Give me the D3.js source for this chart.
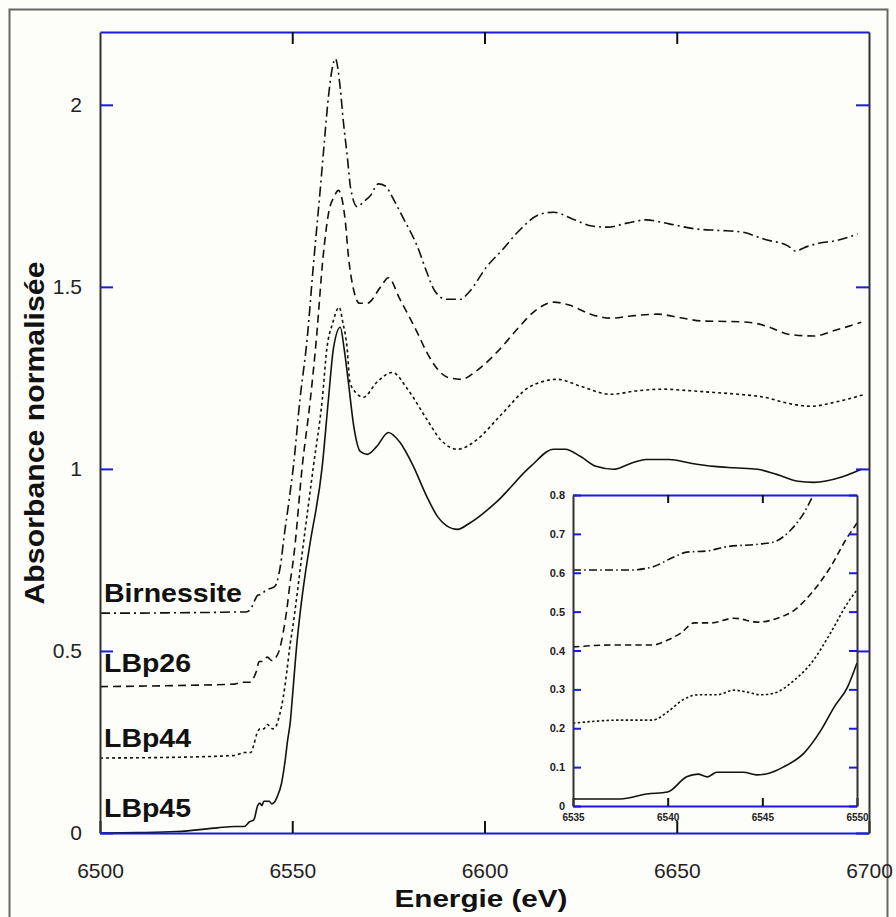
<!DOCTYPE html>
<html>
<head>
<meta charset="utf-8">
<script src="https://cdn.jsdelivr.net/npm/d3@7"></script>
<style>
  html, body { margin: 0; padding: 0; background: #fdfdf9; }
  svg { display: block; }
</style>
</head>
<body>
<script>
// ---------------- DATA ----------------
const seriesNames = ["Birnessite", "LBp26", "LBp44", "LBp45"];
const energyTicks = [6500, 6550, 6600, 6650, 6700];
const absTicks = [0, 0.5, 1, 1.5, 2];
const insetEnergyTicks = [6535, 6540, 6545, 6550];
const insetAbsTicks = [0, 0.1, 0.2, 0.3, 0.4, 0.5, 0.6, 0.7, 0.8];

const birnessite = [
[6500,0.604],[6510,0.604],[6520,0.605],[6530,0.606],[6535,0.607],[6538,0.607],[6539.2,0.615],[6540.3,0.64],[6541,0.653],[6542.1,0.656],[6543,0.666],[6544.9,0.674],[6545.6,0.679],[6546.5,0.71],[6547.2,0.754],[6547.7,0.80],[6549,0.90],[6550.3,1.007],[6552,1.19],[6553.9,1.36],[6555.5,1.56],[6557.3,1.77],[6558.2,1.88],[6559.2,2.0],[6560.4,2.10],[6561.2,2.127],[6562.5,2.044],[6563.3,1.953],[6564.3,1.86],[6565.2,1.77],[6566.9,1.72],[6568.5,1.733],[6570.3,1.75],[6572.4,1.783],[6574.2,1.777],[6576.3,1.741],[6579,1.686],[6582.5,1.612],[6585,1.54],[6587,1.49],[6590,1.466],[6593.8,1.466],[6596,1.486],[6600.7,1.557],[6604.5,1.60],[6608.6,1.65],[6614.6,1.70],[6618,1.705],[6623,1.686],[6628,1.667],[6632,1.664],[6637,1.675],[6642,1.684],[6648,1.673],[6655,1.659],[6661,1.655],[6666.7,1.651],[6673,1.63],[6679,1.612],[6681,1.598],[6683,1.607],[6687,1.62],[6691,1.626],[6697,1.645]
];
const lbp26 = [
[6500,0.402],[6520,0.405],[6535,0.409],[6537,0.414],[6539.2,0.414],[6540,0.427],[6540.7,0.445],[6541.4,0.471],[6542.3,0.471],[6543.5,0.483],[6544.8,0.473],[6545.8,0.483],[6546.7,0.504],[6547.6,0.548],[6548.5,0.607],[6549.5,0.692],[6550,0.728],[6550.5,0.77],[6552.6,1.007],[6554.7,1.19],[6556.3,1.36],[6558,1.58],[6559.4,1.70],[6561,1.75],[6562,1.765],[6563.8,1.68],[6564.6,1.585],[6566,1.49],[6567.5,1.455],[6569.5,1.455],[6573,1.50],[6575,1.525],[6578,1.466],[6582.5,1.375],[6585,1.32],[6587.8,1.274],[6590.3,1.252],[6594,1.246],[6598,1.27],[6604,1.329],[6609,1.39],[6613,1.433],[6618,1.458],[6622,1.45],[6627.6,1.425],[6632.8,1.414],[6638,1.42],[6645,1.425],[6651,1.415],[6657,1.406],[6663,1.405],[6668.5,1.403],[6674,1.39],[6679,1.37],[6685.7,1.365],[6691,1.38],[6698,1.403]
];
const lbp44 = [
[6500,0.206],[6520,0.208],[6533,0.212],[6535,0.213],[6537.6,0.221],[6539.2,0.221],[6540,0.242],[6540.8,0.273],[6541.6,0.286],[6542.6,0.286],[6543.5,0.298],[6544.2,0.293],[6544.9,0.286],[6545.6,0.29],[6546.7,0.324],[6547.7,0.375],[6548.6,0.445],[6549.5,0.522],[6550,0.556],[6552.6,0.77],[6555.5,1.007],[6557.8,1.19],[6559,1.33],[6560.5,1.40],[6562.2,1.444],[6563.2,1.40],[6564.3,1.329],[6565,1.238],[6566.5,1.21],[6568.5,1.197],[6572,1.238],[6576,1.265],[6580,1.219],[6585,1.136],[6588.5,1.081],[6593,1.054],[6598,1.08],[6604,1.145],[6612,1.227],[6619,1.246],[6625,1.227],[6632.8,1.205],[6640,1.215],[6646.6,1.219],[6653,1.215],[6659.7,1.21],[6666,1.205],[6672.7,1.197],[6679,1.18],[6685,1.172],[6691,1.183],[6699,1.205]
];
const lbp45 = [
[6500,0.0],[6510,0.001],[6520,0.004],[6530.5,0.014],[6535,0.018],[6537.5,0.018],[6538.9,0.031],[6540,0.036],[6541,0.075],[6541.6,0.082],[6542.1,0.075],[6542.6,0.087],[6544,0.087],[6544.7,0.08],[6545.4,0.085],[6546.1,0.1],[6547.2,0.136],[6548.1,0.195],[6548.8,0.255],[6549.5,0.306],[6550,0.368],[6551.3,0.531],[6552,0.60],[6553.5,0.72],[6554.7,0.80],[6557.8,1.007],[6559.4,1.19],[6560.7,1.33],[6562.5,1.389],[6563.5,1.33],[6564.6,1.238],[6566,1.117],[6567.7,1.048],[6569.5,1.04],[6572,1.062],[6575,1.10],[6578,1.073],[6581.5,1.007],[6585,0.924],[6587.8,0.869],[6590,0.845],[6593,0.834],[6596,0.85],[6603,0.908],[6612,1.007],[6618,1.054],[6621,1.054],[6625,1.034],[6629,1.007],[6633.6,0.999],[6638,1.015],[6642,1.026],[6648,1.026],[6654,1.015],[6659.7,1.007],[6665,1.003],[6671,0.999],[6676,0.985],[6681.5,0.966],[6685.7,0.963],[6692.7,0.977],[6698,0.999]
];
const seriesData = [birnessite, lbp26, lbp44, lbp45];
const seriesDash = ["10,4,2,4", "8,5", "3,3", null];

// ---------------- DRAW ----------------
const W = 896, H = 917;
const BLUE = "#1a1adc", FONT = "'Liberation Sans', Arial, sans-serif";
const svg = d3.select("body").append("svg").attr("width", W).attr("height", H);
svg.append("rect").attr("x", 0).attr("y", 0).attr("width", W).attr("height", H).attr("fill", "#fdfdf9");
svg.append("rect").attr("x", 9.5).attr("y", 9.5).attr("width", 878).attr("height", 930)
  .attr("fill", "none").attr("stroke", "#666").attr("stroke-width", 2);

const x = d3.scaleLinear().domain([6500, 6700]).range([100, 869]);
const y = d3.scaleLinear().domain([0, 2.2]).range([833, 32]);

const line = d3.line().x(d => x(d[0])).y(d => y(d[1])).curve(d3.curveMonotoneX);
svg.append("g").selectAll("path").data(seriesData).join("path")
  .attr("d", line).attr("fill", "none").attr("stroke", "#111").attr("stroke-width", 1.6)
  .attr("stroke-dasharray", (d, i) => seriesDash[i]);

function styleAxis(g, domainColor, tickColor, fontSize) {
  g.select(".domain").attr("stroke", domainColor).attr("stroke-width", 2);
  g.selectAll(".tick line").attr("stroke", tickColor).attr("stroke-width", 2);
  g.selectAll(".tick text").attr("fill", "#222").style("font-family", FONT).style("font-size", fontSize + "px");
}

// main axes
const gB = svg.append("g").attr("transform", "translate(0,833)")
  .call(d3.axisBottom(x).tickValues(energyTicks).tickSize(-12).tickSizeOuter(0).tickPadding(30).tickFormat(d3.format("d")));
styleAxis(gB, BLUE, "#111", 21);
const gT = svg.append("g").attr("transform", "translate(0,32)")
  .call(d3.axisTop(x).tickValues(energyTicks.slice(1, -1)).tickSize(-12).tickSizeOuter(0).tickFormat(""));
styleAxis(gT, BLUE, "#111", 21);
const gL = svg.append("g").attr("transform", "translate(100,0)")
  .call(d3.axisLeft(y).tickValues(absTicks).tickSize(-13).tickSizeOuter(0).tickPadding(18).tickFormat(d3.format("")));
styleAxis(gL, "#333", BLUE, 21);
const gR = svg.append("g").attr("transform", "translate(869,0)")
  .call(d3.axisRight(y).tickValues(absTicks).tickSize(-13).tickSizeOuter(0).tickFormat(""));
styleAxis(gR, "#333", BLUE, 21);

// axis titles
svg.append("text").attr("transform", "translate(44,433) rotate(-90)")
  .attr("text-anchor", "middle").attr("textLength", 343).attr("lengthAdjust", "spacingAndGlyphs")
  .style("font-family", FONT).style("font-weight", "bold").style("font-size", "27px").attr("fill", "#111")
  .text("Absorbance normalisée");
svg.append("text").attr("x", 481).attr("y", 907)
  .attr("text-anchor", "middle").attr("textLength", 173).attr("lengthAdjust", "spacingAndGlyphs")
  .style("font-family", FONT).style("font-weight", "bold").style("font-size", "24px").attr("fill", "#111")
  .text("Energie (eV)");

// series labels
const labelBaselines = [602, 672, 747, 817];
const labelWidths = [138, 87, 87, 87];
svg.append("g").selectAll("text").data(seriesNames).join("text")
  .attr("x", 104).attr("y", (d, i) => labelBaselines[i])
  .attr("textLength", (d, i) => labelWidths[i]).attr("lengthAdjust", "spacingAndGlyphs")
  .style("font-family", FONT).style("font-weight", "bold").style("font-size", "25px").attr("fill", "#111")
  .text(d => d);

// ---------------- INSET ----------------
const xi = d3.scaleLinear().domain([6535, 6550]).range([573, 857]);
const yi = d3.scaleLinear().domain([0, 0.8]).range([806, 495]);
const inset = svg.append("g");
inset.append("rect").attr("x", 573).attr("y", 495).attr("width", 284).attr("height", 311).attr("fill", "#fdfdf9");
svg.append("defs").append("clipPath").attr("id", "insetClip")
  .append("rect").attr("x", 573).attr("y", 495).attr("width", 284).attr("height", 311);
const lineI = d3.line().x(d => xi(d[0])).y(d => yi(d[1])).curve(d3.curveMonotoneX);
inset.append("g").attr("clip-path", "url(#insetClip)").selectAll("path")
  .data(seriesData.map(s => s.filter(p => p[0] >= 6534 && p[0] <= 6551))).join("path")
  .attr("d", lineI).attr("fill", "none").attr("stroke", "#111").attr("stroke-width", 1.6)
  .attr("stroke-dasharray", (d, i) => seriesDash[i] ? seriesDash[i].split(",").map(v => v * 0.8).join(",") : null);

const giB = inset.append("g").attr("transform", "translate(0,806)")
  .call(d3.axisBottom(xi).tickValues(insetEnergyTicks).tickSize(-8).tickSizeOuter(0).tickPadding(8).tickFormat(d3.format("d")));
styleAxis(giB, BLUE, "#111", 10);
giB.selectAll(".tick text").style("font-weight", "bold");
const giT = inset.append("g").attr("transform", "translate(0,495)")
  .call(d3.axisTop(xi).tickValues(insetEnergyTicks.slice(1, -1)).tickSize(-8).tickSizeOuter(0).tickFormat(""));
styleAxis(giT, BLUE, "#111", 10);
const giL = inset.append("g").attr("transform", "translate(573,0)")
  .call(d3.axisLeft(yi).tickValues(insetAbsTicks).tickSize(-8).tickSizeOuter(0).tickPadding(8).tickFormat(d3.format("")));
styleAxis(giL, "#333", BLUE, 11);
giL.selectAll(".tick text").style("font-weight", "bold");
const giR = inset.append("g").attr("transform", "translate(857,0)")
  .call(d3.axisRight(yi).tickValues(insetAbsTicks).tickSize(-8).tickSizeOuter(0).tickFormat(""));
styleAxis(giR, "#333", BLUE, 10);
</script>
</body>
</html>
